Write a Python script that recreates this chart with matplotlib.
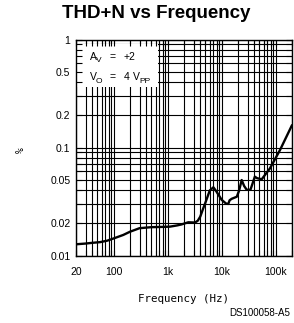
import matplotlib
matplotlib.use("Agg")
import matplotlib.pyplot as plt
from matplotlib.ticker import FixedLocator, NullFormatter, FixedFormatter
from matplotlib.patches import Rectangle

# ---- data ----
freq_hz = [20, 30, 40, 56, 75, 100, 150, 200, 300, 500, 800, 1100, 1500, 1800,
           2400, 3200, 3600, 4000, 4500, 5000, 6000, 7000, 8000, 10000, 12000,
           13200, 14000, 15300, 19000, 21000, 23400, 26000, 29000, 34000, 37000,
           41000, 45000, 55000, 78000, 120000, 200000]
thdn_pct = [0.0127, 0.0129, 0.0131, 0.0133, 0.0137, 0.0144, 0.0155, 0.0166,
            0.0179, 0.0183, 0.0184, 0.0185, 0.0190, 0.0194, 0.0203, 0.0202,
            0.0210, 0.0229, 0.0270, 0.0310, 0.0400, 0.0428, 0.0390, 0.0327,
            0.0303, 0.0300, 0.0325, 0.0335, 0.0350, 0.0400, 0.0500, 0.0440,
            0.0406, 0.0406, 0.0460, 0.0537, 0.0520, 0.0508, 0.0640, 0.0948,
            0.1610]

x_tick_vals = [20, 100, 1000, 10000, 100000]
x_tick_labels = ["20", "100", "1k", "10k", "100k"]
y_tick_vals = [0.01, 0.02, 0.05, 0.1, 0.2, 0.5, 1]
y_tick_labels = ["0.01", "0.02", "0.05", "0.1", "0.2", "0.5", "1"]

x_grid = ([m * 10 for m in range(2, 10)] + [m * 100 for m in range(1, 10)] +
          [m * 1000 for m in range(1, 10)] + [m * 10000 for m in range(1, 10)] +
          [m * 100000 for m in range(1, 3)])
y_grid = ([m * 0.01 for m in range(1, 10)] + [m * 0.1 for m in range(1, 10)] + [1.0])

W, H = 294, 323
fig = plt.figure(figsize=(W / 100, H / 100), dpi=100)
ax = fig.add_axes([76 / W, 1 - 255.5 / H, 216 / W, 216 / H])
ax.set_xscale("log")
ax.set_yscale("log")
ax.set_xlim(20, 200000)
ax.set_ylim(0.01, 1)

# grid (below the annotation box)
ax.vlines(x_grid, 0.01, 1, colors="black", linewidth=0.8, zorder=0.6)
ax.hlines(y_grid, 20, 200000, colors="black", linewidth=0.8, zorder=0.6)

ax.plot(freq_hz, thdn_pct, color="black", linewidth=1.7, zorder=3,
        solid_capstyle="round")

# ticks
ax.xaxis.set_major_locator(FixedLocator(x_tick_vals))
ax.xaxis.set_major_formatter(FixedFormatter(x_tick_labels))
ax.xaxis.set_minor_locator(FixedLocator(x_grid))
ax.xaxis.set_minor_formatter(NullFormatter())
ax.yaxis.set_major_locator(FixedLocator(y_tick_vals))
ax.yaxis.set_major_formatter(FixedFormatter(y_tick_labels))
ax.yaxis.set_minor_locator(FixedLocator(y_grid))
ax.yaxis.set_minor_formatter(NullFormatter())
ax.tick_params(which="both", direction="in", length=4, width=0.8,
               top=True, right=True, colors="black")
ax.tick_params(axis="x", which="major", pad=8, labelsize=7.5)
ax.tick_params(axis="y", which="major", pad=4, labelsize=7.5)
for lab in ax.get_xticklabels() + ax.get_yticklabels():
    lab.set_fontfamily("Liberation Sans")
for s in ax.spines.values():
    s.set_linewidth(1.0)

# annotation box (white, covering the grid)
ax.add_patch(Rectangle((0.002, 1 - (87 - 39.5) / 216),
                       (158 - 76) / 216, (87 - 44) / 216,
                       transform=ax.transAxes, facecolor="white",
                       edgecolor="none", zorder=1))

def ptext(x, y, s, size=7.5, **kw):
    fig.text(x / W, 1 - y / H, s, fontsize=size, family="Liberation Sans",
             ha="left", va="baseline", **kw)

# line 1: A_V = +2
ptext(89.5, 60, "A")
ptext(96, 62.5, "V", size=6)
ptext(109, 60, "=")
ptext(123.5, 60, "+2")
# line 2: V_O = 4 V_PP
ptext(89.5, 80, "V")
ptext(96, 82.5, "O", size=6)
ptext(109, 80, "=")
ptext(124, 80, "4")
ptext(132.5, 80, "V")
ptext(139, 82.5, "PP", size=6)

# labels
fig.text(156 / W, 1 - 14 / H, "THD+N vs Frequency", ha="center", va="center",
         fontsize=13.5, fontweight="bold", family="Liberation Sans")
fig.text(21 / W, 1 - 150 / H, "%", rotation=90, ha="center", va="center",
         fontsize=7, family="DejaVu Sans Mono")
fig.text(184 / W, 1 - 299 / H, "Frequency (Hz)", ha="center", va="center",
         fontsize=7.8, family="DejaVu Sans Mono")
fig.text(290 / W, 1 - 313 / H, "DS100058-A5", ha="right", va="center",
         fontsize=7, family="Liberation Sans")

fig.savefig("out.png", dpi=100)
